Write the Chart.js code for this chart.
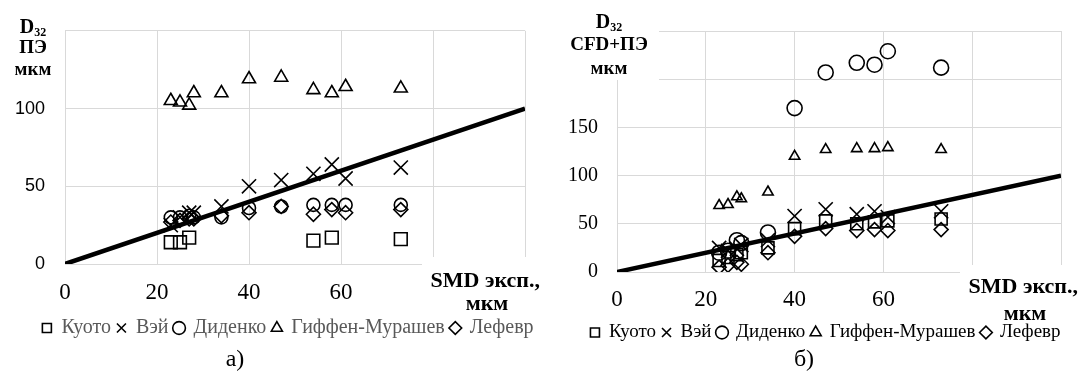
<!DOCTYPE html>
<html>
<head>
<meta charset="utf-8">
<script src="https://cdn.jsdelivr.net/npm/chart.js@4"></script>
<style>
  body { margin: 0; background: #fff; width: 1079px; height: 376px; overflow: hidden; }
  canvas { position: absolute; top: 0; }
  #chartA { left: 0; }
  #chartB { left: 540px; }
</style>
</head>
<body>
<canvas id="chartA" width="540" height="376"></canvas>
<canvas id="chartB" width="539" height="376"></canvas>
<script>
// experimental SMD, мкм (x for every series)
var smd = [23, 25, 27, 28, 34, 40, 47, 54, 58, 61, 73];
var seriesNames = ['Куото', 'Вэй', 'Диденко', 'Гиффен-Мурашев', 'Лефевр'];
var pointStyles = ['rect', 'crossRot', 'circle', 'triangle', 'rectRot'];

// а) D32 ПЭ
var kyotoA   = [14, 14, 17, null, null, null, null, 15, 17, null, 16];
var weiA     = [25, 30, 33, 33, 37, 50, 54, 58, 64, 55, 62];
var didenkoA = [30, 30, 31, 30, 30, 36, 37, 38, 38, 38, 38];
var giffenA  = [105, 104, 102, 110, 110, 119, 120, 112, 110, 114, 113];
var lefevrA  = [27, 28, 29, 29, 31, 33, 37, 32, 35, 33, 35];

// б) D32 CFD+ПЭ
var kyotoB   = [12, 15, 18, 20, 25, 45, 53, 50, 52, 53, 55];
var weiB     = [25, 22, 24, 28, 33, 58, 65, 60, 63, 57, 63];
var didenkoB = [20, 22, 33, 30, 41, 170, 207, 217, 215, 229, 212];
var giffenB  = [69, 70, 78, 76, 83, 120, 127, 128, 128, 129, 127];
var lefevrB  = [5, 7, 10, 8, 20, 37, 45, 43, 44, 43, 44];

// y = x reference line
var diagX = [0, 100];
var diagY = [0, 100];

var xTicks = [0, 20, 40, 60, 80, 100];

function pts(ys) {
  return smd.map(function (x, i) { return { x: x, y: ys[i] }; })
            .filter(function (p) { return p.y !== null; });
}

function drawD32(ctx, cx, y) {
  ctx.font = 'bold 20px "Liberation Serif"';
  var w1 = ctx.measureText('D').width;
  ctx.font = 'bold 12px "Liberation Serif"';
  var w2 = ctx.measureText('32').width;
  var left = cx - (w1 + w2) / 2;
  ctx.textAlign = 'left';
  ctx.font = 'bold 20px "Liberation Serif"';
  ctx.fillText('D', left, y);
  ctx.font = 'bold 12px "Liberation Serif"';
  ctx.fillText('32', left + w1, y + 5);
}

function decor(o) {
  return {
    id: 'decor',
    afterLayout: function (chart) {
      // legend sits off-centre in the original
      chart.legend.left += o.legendShift;
      chart.legend.right += o.legendShift;
    },
    beforeDatasetsDraw: function (chart) {
      var ctx = chart.ctx;
      ctx.save();
      ctx.fillStyle = '#fff';
      o.boxes.forEach(function (b) { ctx.fillRect(b[0], b[1], b[2], b[3]); });
      ctx.restore();
    },
    afterDraw: function (chart) {
      var ctx = chart.ctx;
      ctx.save();
      ctx.fillStyle = '#000';
      ctx.textBaseline = 'middle';
      drawD32(ctx, o.yt[0], o.yt[1]);
      ctx.textAlign = 'center';
      ctx.font = 'bold 19px "Liberation Serif"';
      ctx.fillText(o.yName, o.yt[0], o.yt[2]);
      ctx.fillText('мкм', o.yt[0], o.yt[3]);
      ctx.font = 'bold 22px "Liberation Serif"';
      ctx.textAlign = 'right';
      ctx.fillText('SMD эксп.,', o.xt[0], o.xt[1]);
      ctx.textAlign = 'center';
      ctx.fillText('мкм', o.xt[2], o.xt[3]);
      ctx.font = '24px "Liberation Serif"';
      ctx.fillText(o.caption, o.cap[0], o.cap[1]);
      ctx.restore();
    }
  };
}

function makeChart(id, o) {
  var datasets = [{
    label: 'y=x',
    data: diagX.map(function (x, i) { return { x: x, y: diagY[i] }; }),
    showLine: true,
    borderColor: '#000',
    borderWidth: 4.5,
    pointRadius: 0
  }];
  o.series.forEach(function (ys, i) {
    datasets.push({
      label: seriesNames[i],
      data: pts(ys),
      pointStyle: pointStyles[i],
      pointRadius: o.radii[i],
      pointHoverRadius: o.radii[i],
      pointBorderColor: '#000',
      pointBackgroundColor: 'rgba(0,0,0,0)',
      pointBorderWidth: 1.6,
      borderColor: '#000',
      backgroundColor: 'rgba(0,0,0,0)'
    });
  });

  return new Chart(document.getElementById(id).getContext('2d'), {
    type: 'scatter',
    data: { datasets: datasets },
    options: {
      responsive: false,
      animation: false,
      layout: { padding: o.padding },
      plugins: {
        tooltip: { enabled: false },
        legend: {
          position: 'bottom',
          labels: {
            usePointStyle: true,
            boxWidth: 9,
            boxHeight: 9,
            padding: 6,
            color: o.legendColor,
            font: { family: '"Liberation Serif"', size: o.legendSize },
            filter: function (item) { return item.text !== 'y=x'; }
          }
        }
      },
      scales: {
        x: {
          type: 'linear',
          min: 0,
          max: 100,
          afterBuildTicks: function (s) { s.ticks = xTicks.map(function (v) { return { value: v }; }); },
          afterFit: function (s) { s.height = o.xh; },
          ticks: {
            padding: o.xPad,
            color: '#000',
            autoSkip: false,
            maxRotation: 0,
            font: { family: '"Liberation Serif"', size: 23 },
            callback: function (v) { return v <= 60 ? v : ''; }
          },
          grid: { color: '#d9d9d9', drawTicks: false },
          border: { display: false }
        },
        y: {
          type: 'linear',
          min: 0,
          max: o.yMax,
          afterBuildTicks: function (s) { s.ticks = o.yTicks.map(function (v) { return { value: v }; }); },
          afterFit: function (s) { s.width = o.yw; },
          ticks: {
            padding: o.yPad,
            color: '#000',
            font: o.yFont,
            callback: function (v) { return v <= o.yShow ? v : ''; }
          },
          grid: { color: '#d9d9d9', drawTicks: false },
          border: { display: false }
        }
      }
    },
    plugins: [decor(o)]
  });
}

makeChart('chartA', {
  series: [kyotoA, weiA, didenkoA, giffenA, lefevrA],
  radii: [9, 10, 6.5, 7.5, 7],
  padding: { top: 18, right: 12, left: 0, bottom: 28 },
  xh: 48, yw: 65, xPad: 15, yPad: 20,
  yMax: 150, yTicks: [0, 50, 100, 150], yShow: 100,
  yFont: { family: '"Liberation Sans"', size: 18 },
  legendColor: '#595959',
  legendSize: 20,
  legendShift: 24,
  yName: 'ПЭ',
  yt: [33, 28, 48, 70],
  xt: [540, 281, 487, 304],
  cap: [235, 360],
  caption: 'а)',
  boxes: [[422, 257, 118, 14]]
});

makeChart('chartB', {
  series: [kyotoB, weiB, didenkoB, giffenB, lefevrB],
  radii: [8.5, 10, 7.5, 6, 7],
  padding: { top: 17, right: 18, left: 0, bottom: 24 },
  xh: 45, yw: 77, xPad: 14, yPad: 19,
  yMax: 250, yTicks: [0, 50, 100, 150, 200, 250], yShow: 150,
  yFont: { family: '"Liberation Serif"', size: 20 },
  legendColor: '#000',
  legendSize: 19,
  legendShift: 25,
  yName: 'CFD+ПЭ',
  yt: [69, 23, 45, 69],
  xt: [538, 287, 485, 314],
  cap: [264, 360],
  caption: 'б)',
  boxes: [[0, 0, 119, 80], [420, 265, 119, 12]]
});
</script>
</body>
</html>
